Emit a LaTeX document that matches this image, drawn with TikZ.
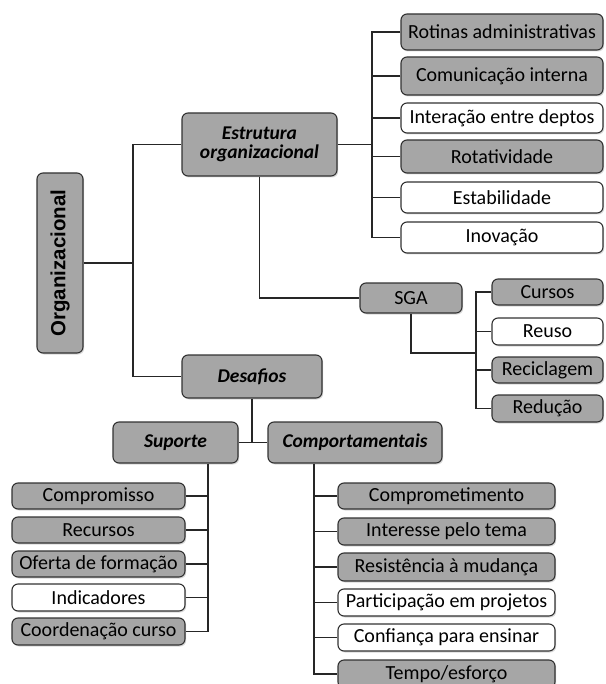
\documentclass[tikz,border=0pt]{standalone}
\usepackage{fontspec}
\setmainfont{Carlito}
\newfontfamily\headfont{Liberation Sans}
\usetikzlibrary{shadows}
\definecolor{boxgray}{RGB}{166,166,166}
\definecolor{edgegray}{RGB}{50,50,50}
\begin{document}
\begin{tikzpicture}[x=1pt,y=-1pt,
  base/.style={draw=edgegray,line width=1.1pt,rounded corners=6pt,inner sep=0pt,
    font=\fontsize{20}{22}\selectfont,text=black,
    drop shadow={opacity=0.3,shadow xshift=1.2pt,shadow yshift=-1.5pt}},
  gbox/.style={base,fill=boxgray},
  wbox/.style={base,fill=white},
  head/.style={font=\fontsize{19.5}{21}\selectfont\bfseries\itshape,align=center},
  link/.style={draw=black!85,line width=1.1pt}]
\useasboundingbox (0,0) rectangle (605,684);
\clip (0,0) rectangle (605,684);

% root
\node[gbox,minimum width=46pt,minimum height=180pt] (org) at (60,263) {};
\node[rotate=90,font=\headfont\fontsize{20.5}{22}\selectfont\bfseries] (orgtxt) at (org.center) {Organizacional};

% first level
\node[gbox,head,minimum width=155pt,minimum height=63pt] (est) at (259.5,144.5) {Estrutura\\[-2pt]organizacional};
\node[gbox,head,minimum width=140pt,minimum height=43pt] (des) at (252,376.5) {Desafios};

% structure items
\node[gbox,minimum width=202pt,minimum height=36pt] (rot) at (502,32) {Rotinas administrativas};
\node[gbox,minimum width=202pt,minimum height=38pt] (com) at (502,76) {Comunicação interna};
\node[wbox,minimum width=202pt,minimum height=30pt] (inter) at (502,118) {Interação entre deptos};
\node[gbox,minimum width=202pt,minimum height=33pt] (rtv) at (502,156.5) {Rotatividade};
\node[wbox,minimum width=202pt,minimum height=31pt] (estab) at (502,197.5) {Estabilidade};
\node[wbox,minimum width=202pt,minimum height=31pt] (inov) at (502,237.5) {Inovação};
\coordinate (t1) at (372,0);

% SGA branch
\node[gbox,minimum width=102pt,minimum height=30pt] (sga) at (411,298) {SGA};
\node[gbox,minimum width=111pt,minimum height=26pt] (cur) at (547.5,292) {Cursos};
\node[wbox,minimum width=111pt,minimum height=27pt] (reu) at (547.5,331.5) {Reuso};
\node[gbox,minimum width=111pt,minimum height=26pt] (rec) at (547.5,370) {Reciclagem};
\node[gbox,minimum width=111pt,minimum height=27pt] (red) at (547.5,408.5) {Redução};
\coordinate (t2) at (476,353);

% challenges
\node[gbox,head,minimum width=125pt,minimum height=41pt] (sup) at (175.5,442.5) {Suporte};
\node[gbox,head,minimum width=174pt,minimum height=41pt] (cmp) at (355,442.5) {Comportamentais};

\node[gbox,minimum width=173pt,minimum height=26pt] (s1) at (98.5,496) {Compromisso};
\node[gbox,minimum width=173pt,minimum height=26pt] (s2) at (98.5,530) {Recursos};
\node[gbox,minimum width=173pt,minimum height=26pt] (s3) at (98.5,564) {Oferta de formação};
\node[wbox,minimum width=173pt,minimum height=27pt] (s4) at (98.5,597.5) {Indicadores};
\node[gbox,minimum width=173pt,minimum height=27pt] (s5) at (98.5,631.5) {Coordenação curso};
\coordinate (t3) at (208,0);

\node[gbox,minimum width=217pt,minimum height=26pt] (c1) at (446.5,496) {Comprometimento};
\node[gbox,minimum width=217pt,minimum height=27pt] (c2) at (446.5,531.5) {Interesse pelo tema};
\node[gbox,minimum width=217pt,minimum height=28pt] (c3) at (446.5,567) {Resistência à mudança};
\node[wbox,minimum width=217pt,minimum height=27pt] (c4) at (446.5,602.5) {Participação em projetos};
\node[wbox,minimum width=217pt,minimum height=27pt] (c5) at (446.5,637.5) {Confiança para ensinar};
\node[gbox,minimum width=217pt,minimum height=28pt] (c6) at (446.5,674) {Tempo/esforço};
\coordinate (t4) at (314,0);

% connectors: root
\coordinate (t0) at (133,0);
\draw[link] (org.east) -- (org.east -| t0);
\draw[link] (est.west) -- (est.west -| t0) -- (des.west -| t0) -- (des.west);

% connectors: structure
\draw[link] (rot.west) -- (rot.west -| t1) -- (inov.west -| t1) -- (inov.west);
\foreach \n in {com,inter,rtv,estab} \draw[link] (\n.west) -- (\n.west -| t1);
\draw[link] (est.east) -- (est.east -| t1);
\draw[link] (est.south) |- (sga.west);

% connectors: SGA
\draw[link] (sga.south) |- (t2);
\draw[link] (cur.west) -- (cur.west -| t2) -- (red.west -| t2) -- (red.west);
\foreach \n in {reu,rec} \draw[link] (\n.west) -- (\n.west -| t2);

% connectors: challenges
\draw[link] (sup.east) -- (cmp.west);
\draw[link] (des.south) -- (des.south |- sup.east);
\draw[link] (sup.south -| t3) -- (s5.east -| t3) -- (s5.east);
\foreach \n in {s1,s2,s3,s4} \draw[link] (\n.east) -- (\n.east -| t3);
\draw[link] (cmp.south -| t4) -- (c6.west -| t4) -- (c6.west);
\foreach \n in {c1,c2,c3,c4,c5} \draw[link] (\n.west) -- (\n.west -| t4);
\end{tikzpicture}
\end{document}
